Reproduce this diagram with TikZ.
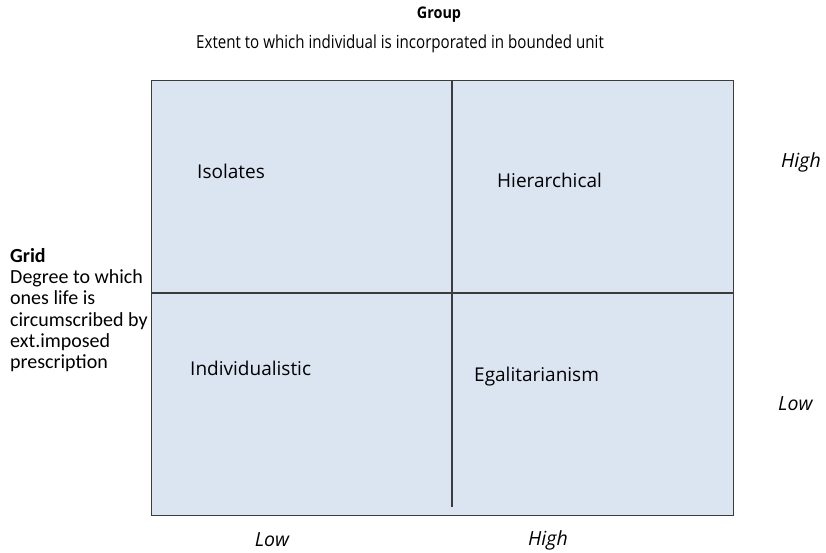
\documentclass[tikz,border=0pt]{standalone}
\usepackage{fontspec}
\usepackage{graphicx}
\setmainfont{Open Sans}
\newfontfamily\gridfont{Carlito}
\definecolor{cellblue}{RGB}{219,228,241}
\definecolor{edgegray}{RGB}{60,60,60}
\tikzset{
  label text/.style={font=\fontsize{19}{22}\selectfont, inner sep=0pt},
  axis level/.style={font=\fontsize{19.5}{22}\selectfont\itshape, inner sep=0pt},
  divider/.style={draw=edgegray, line width=1.2pt}
}

\begin{document}
\begin{tikzpicture}[x=1pt,y=-1pt] % one unit = one pixel of the reference
\useasboundingbox (0,0) rectangle (826,552);

% the two-by-two field
\node (field) [draw=edgegray, line width=1.2pt, fill=cellblue, minimum width=582pt, minimum height=435pt, inner sep=0pt, anchor=north west] at (151,80) {};
\coordinate (midtop) at (452,80);
\coordinate (midbot) at (452,507);
\coordinate (rowleft) at (151,293);
\coordinate (rowright) at (733,293);
\draw[divider] (midtop) -- (midbot);
\draw[divider] (rowleft) -- (rowright);

% headings
\node (group) [font=\fontsize{16}{18}\selectfont\bfseries, inner sep=0pt] at (439,15)
  {\scalebox{0.9}[1]{Group}};
\node (groupdef) [font=\fontsize{18}{20}\selectfont, inner sep=0pt] at (400,44)
  {\scalebox{0.84}[1]{Extent to which individual is incorporated in bounded unit}};

\node (grid) [font=\gridfont\fontsize{20}{21.3}\selectfont, align=left, inner sep=0pt, anchor=north west] at (10,248)
  {\textbf{Grid}\\Degree to which\\ones life is\\circumscribed by\\ext.imposed\\prescription};

% the four cells
\node (isolates) [label text, anchor=west] at (197,171) {Isolates};
\node (hierarchical) [label text, anchor=west] at (497,180) {Hierarchical};
\node (individualistic) [label text, anchor=west] at (190,368) {Individualistic};
\node (egalitarian) [label text, anchor=west] at (474,377) {Egalitarianism};

% levels
\node (highright) [axis level, anchor=west] at (781,162) {High};
\node (lowright) [axis level, anchor=west] at (778,404) {Low};
\node (lowbottom) [axis level] at (272,540) {Low};
\node (highbottom) [axis level] at (548,540) {High};
\end{tikzpicture}
\end{document}
